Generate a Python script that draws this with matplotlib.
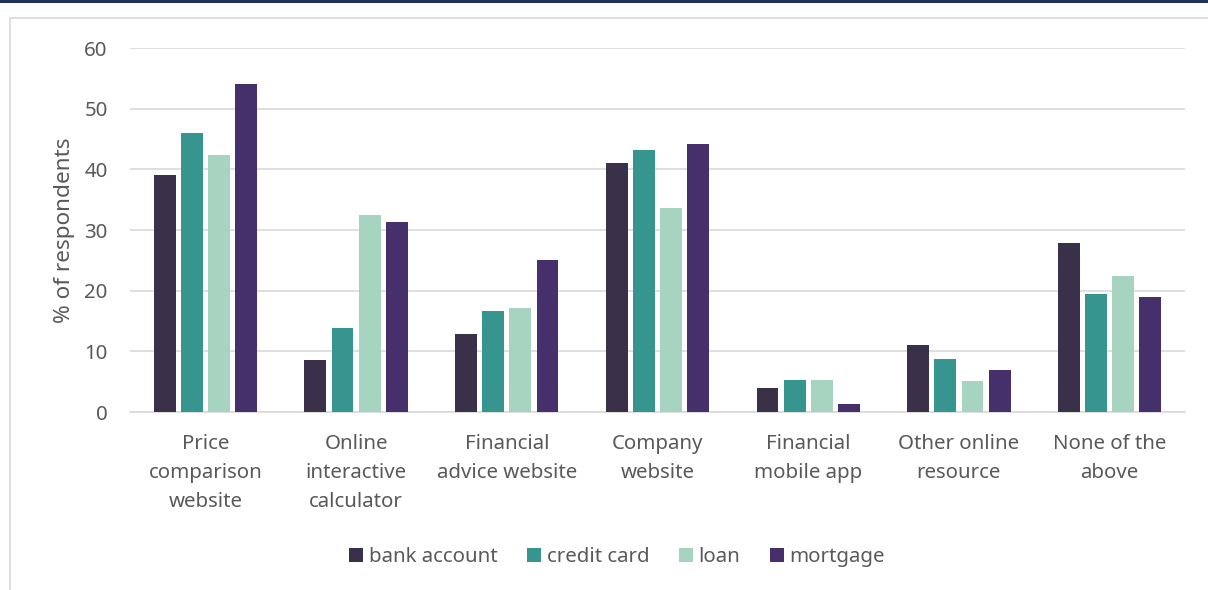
import numpy as np
import matplotlib.pyplot as plt
from matplotlib.patches import Rectangle

categories = ['Price\ncomparison\nwebsite', 'Online\ninteractive\ncalculator',
              'Financial\nadvice website', 'Company\nwebsite',
              'Financial\nmobile app', 'Other online\nresource', 'None of the\nabove']
series = ['bank account', 'credit card', 'loan', 'mortgage']
bank_account = [39.0, 8.6, 12.8, 41.0, 3.9, 11.0, 27.9]
credit_card = [46.0, 13.9, 16.7, 43.2, 5.2, 8.8, 19.4]
loan = [42.4, 32.4, 17.2, 33.7, 5.2, 5.1, 22.4]
mortgage = [54.1, 31.4, 25.1, 44.2, 1.3, 6.9, 19.0]
colors = ['#3a3049', '#37958f', '#a6d4c0', '#46306c']

plt.rcParams['font.family'] = ['Noto Sans', 'DejaVu Sans']
txt = '#595959'
fs = 14.7

fig = plt.figure(figsize=(12.08, 5.9), dpi=100)
# outer frame and top rule
fig.patches.append(Rectangle((10/1208, -0.01), 1.2, 1 - 18/590 + 0.01, transform=fig.transFigure,
                             fill=False, edgecolor='#d9d9d9', linewidth=1.2))
fig.patches.append(Rectangle((0, 1 - 3/590), 1, 3/590, transform=fig.transFigure,
                             color='#1f3357', linewidth=0))

ax = fig.add_axes([130/1208, 1 - 412/590, (1185 - 130)/1208, (412 - 48)/590])
x = np.arange(len(categories))
slot = 0.18
for i, (vals, c) in enumerate(zip([bank_account, credit_card, loan, mortgage], colors)):
    ax.bar(x + (i - 1.5) * slot, vals, width=0.145, color=c, label=series[i], zorder=3)

ax.set_xlim(-0.5, len(categories) - 0.5)
ax.set_ylim(0, 60)
ax.set_yticks(range(0, 61, 10))
ax.grid(axis='y', color='#d9d9d9', linewidth=1.2, zorder=0)
for s in ['top', 'right', 'left']:
    ax.spines[s].set_visible(False)
ax.spines['bottom'].set_color('#d9d9d9')
ax.spines['bottom'].set_linewidth(1.2)
ax.tick_params(axis='both', length=0, labelsize=fs, labelcolor=txt)
ax.tick_params(axis='y', pad=16)
ax.tick_params(axis='x', pad=16)
ax.set_xticks(x)
ax.set_xticklabels(categories, linespacing=1.6)
ax.set_ylabel('% of respondents', fontsize=16.2, color=txt, labelpad=7)

fig.legend(*ax.get_legend_handles_labels(), loc='center', bbox_to_anchor=(617/1208, 1 - 557/590),
           ncol=4, frameon=False, fontsize=fs, labelcolor=txt, handlelength=0.69,
           handleheight=0.69, handletextpad=0.27, columnspacing=1.45)

fig.savefig('out.png', dpi=100)
